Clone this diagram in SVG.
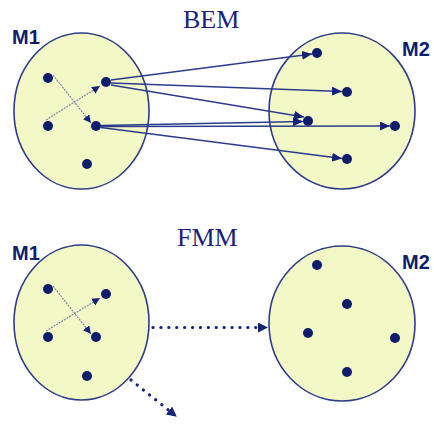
<svg xmlns="http://www.w3.org/2000/svg" width="434" height="425" viewBox="0 0 434 425">
<defs>
<style>
.title{font-family:"Liberation Serif",serif;font-size:26px;fill:#1a1f80}
.lbl{font-family:"Liberation Sans",Arial,sans-serif;font-weight:bold;font-size:20px;fill:#0f1d6b}
.domain{fill:#f3f8c7;stroke:#2e3d85;stroke-width:1.6}
.pt{fill:#0f1b6b}
.far{stroke:#2c3b8c;stroke-width:1.3;fill:none;marker-end:url(#head)}
.near{stroke:#7c88ab;stroke-width:1.2;fill:none;stroke-dasharray:2 1;marker-end:url(#headS)}
.fmm{stroke:#142277;stroke-width:3.2;fill:none;stroke-linecap:round;stroke-dasharray:0.1 7.8;marker-end:url(#headB)}
</style>
<marker id="head" markerUnits="userSpaceOnUse" markerWidth="11" markerHeight="10" refX="10" refY="4.5" orient="auto"><path d="M0,0 L10,4.5 L0,9 z" fill="#142277"/></marker>
<marker id="headS" markerUnits="userSpaceOnUse" markerWidth="10" markerHeight="9" refX="8" refY="4" orient="auto"><path d="M0,0 L8,4 L0,8 z" fill="#142277"/></marker>
<marker id="headB" markerUnits="userSpaceOnUse" markerWidth="12" markerHeight="12" refX="0" refY="5" orient="auto"><path d="M0,0 L10,5 L0,10 z" fill="#142277"/></marker>
</defs>
<rect width="434" height="425" fill="#ffffff"/>
<text class="title" x="183" y="28">BEM</text>
<text class="title" x="177" y="246">FMM</text>

<g id="bem-m1">
<ellipse class="domain" cx="81.5" cy="111" rx="67.5" ry="78"/>
<text class="lbl" x="12" y="44">M1</text>
<circle class="pt" cx="48" cy="78" r="5"/>
<circle class="pt" cx="106" cy="82" r="5"/>
<circle class="pt" cx="48" cy="126" r="5"/>
<circle class="pt" cx="96" cy="126" r="5"/>
<circle class="pt" cx="87" cy="164" r="5"/>
</g>
<g id="bem-m2">
<ellipse class="domain" cx="342" cy="111" rx="73" ry="78"/>
<text class="lbl" x="402" y="56">M2</text>
<circle class="pt" cx="317" cy="53" r="5"/>
<circle class="pt" cx="347" cy="92" r="5"/>
<circle class="pt" cx="308" cy="121" r="5"/>
<circle class="pt" cx="395" cy="126" r="5"/>
<circle class="pt" cx="347" cy="159" r="5"/>
</g>
<g id="fmm-m1">
<ellipse class="domain" cx="81.5" cy="322.5" rx="67.5" ry="77.5"/>
<text class="lbl" x="12" y="260">M1</text>
<circle class="pt" cx="48" cy="289" r="5"/>
<circle class="pt" cx="106" cy="294" r="5"/>
<circle class="pt" cx="48" cy="337" r="5"/>
<circle class="pt" cx="96" cy="337" r="5"/>
<circle class="pt" cx="87" cy="376" r="5"/>
</g>
<g id="fmm-m2">
<ellipse class="domain" cx="342" cy="323.5" rx="73" ry="77.5"/>
<text class="lbl" x="402" y="269">M2</text>
<circle class="pt" cx="317" cy="265" r="5"/>
<circle class="pt" cx="347" cy="304" r="5"/>
<circle class="pt" cx="308" cy="333" r="5"/>
<circle class="pt" cx="395" cy="338" r="5"/>
<circle class="pt" cx="347" cy="372" r="5"/>
</g>

<g id="connectors">
<path class="near" d="M53,75 L91,123"/>
<path class="near" d="M46,120 L100,86"/>
<path class="far" d="M111,80 L312,54"/>
<path class="far" d="M111,83 L342,91.5"/>
<path class="far" d="M111,85 L304,117"/>
<path class="far" d="M101,125.5 L303,121.5"/>
<path class="far" d="M101,126.5 L390,126"/>
<path class="far" d="M101,127.5 L342,158.5"/>
<path class="near" d="M53,286 L91,334"/>
<path class="near" d="M46,331 L100,298"/>
<path class="fmm" d="M153,327.5 L258,327.5"/>
<path class="fmm" d="M131,380 L169,410.5"/>
</g>
</svg>
